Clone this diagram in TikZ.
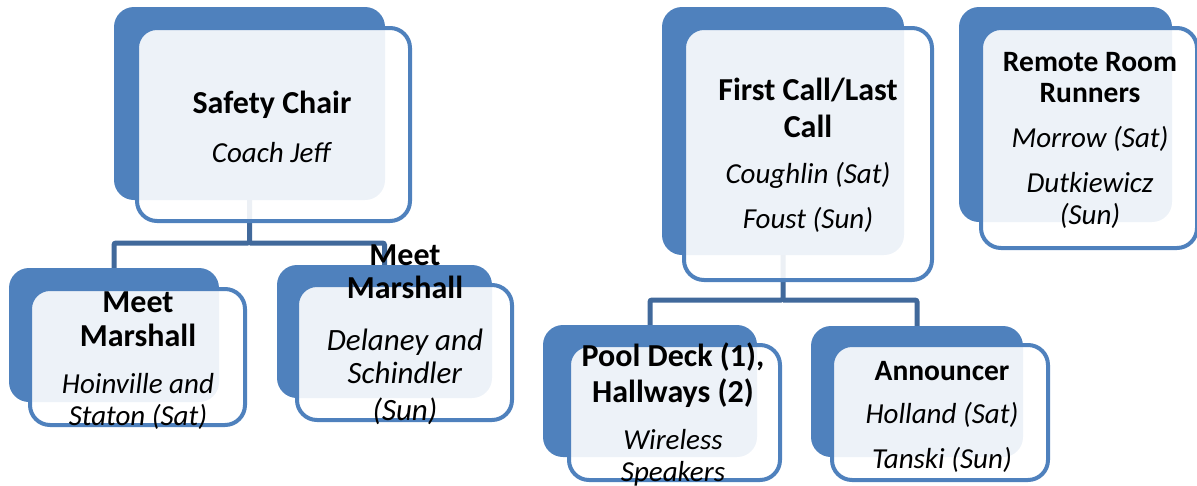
\documentclass[tikz,border=0pt]{standalone}
\usepackage{fontspec}
\setmainfont{Carlito}
\usetikzlibrary{backgrounds}

\definecolor{boxblue}{RGB}{79,129,189}
\definecolor{linkblue}{RGB}{65,105,155}

\newcommand{\rolehead}[2][32]{{\fontsize{#1}{33}\selectfont\upshape\bfseries #2}}
\newcommand{\rolename}[1]{\textit{#1}}

\tikzset{
	backbox/.style={rectangle,fill=boxblue,rounded corners=20pt,inner sep=0pt},
	frontbox/.style={rectangle,draw=boxblue,line width=4pt,fill=white,fill opacity=0.9,rounded corners=20pt,inner sep=0pt},
	roletext/.style={align=center,inner sep=0pt,font=\fontsize{29}{33}\selectfont},
	link/.style={draw=linkblue,line width=5pt,rounded corners=2pt}
}

\begin{document}
\begin{tikzpicture}[x=1pt,y=-1pt]
	\useasboundingbox (0,0) rectangle (1197,485);

	% back boxes
	\begin{scope}[every node/.style={backbox}]
		\node[minimum width=271pt,minimum height=193pt] (safetyB) at (249.5,103.5) {};
		\node[minimum width=210pt,minimum height=134pt] (meetLB) at (114,335) {};
		\node[minimum width=215pt,minimum height=133pt] (meetRB) at (384.5,331.5) {};
		\node[minimum width=242pt,minimum height=248pt] (firstB) at (783,131) {};
		\node[minimum width=213pt,minimum height=215pt] (remoteB) at (1065.5,114.5) {};
		\node[minimum width=214pt,minimum height=132pt] (poolB) at (650,391) {};
		\node[minimum width=212pt,minimum height=131pt] (annB) at (917,391.5) {};
	\end{scope}

	% front boxes
	\begin{scope}[every node/.style={frontbox}]
		\node[minimum width=273pt,minimum height=193pt] (safetyF) at (273.5,124.5) {};
		\node[minimum width=215pt,minimum height=136pt] (meetLF) at (137.5,357) {};
		\node[minimum width=215pt,minimum height=135pt] (meetRF) at (404.5,352.5) {};
		\node[minimum width=248pt,minimum height=252pt] (firstF) at (808,154) {};
		\node[minimum width=216pt,minimum height=220pt] (remoteF) at (1089,138) {};
		\node[minimum width=211pt,minimum height=135pt] (poolF) at (674.5,412.5) {};
		\node[minimum width=216pt,minimum height=135pt] (annF) at (940,412.5) {};
	\end{scope}

	% texts
	\begin{scope}[every node/.style={roletext}]
		\node (safety) at (272,127) {\rolehead{Safety Chair}\\[16pt]\rolename{Coach Jeff}};
		\node (meetL) at (138,360.5) {\rolehead{Meet}\\[1pt]\rolehead{Marshall}\\[14pt]\rolename{Hoinville and}\\[-1pt]\rolename{Staton (Sat)}};
		\node[font=\fontsize{31}{33}\selectfont] (meetR) at (405,335) {\rolehead{Meet}\\\rolehead{Marshall}\\[19pt]\rolename{Delaney and}\\\rolename{Schindler}\\[4pt]\rolename{(Sun)}};
		\node (first) at (808,155) {\rolehead{First Call/Last}\\[4pt]\rolehead{Call}\\[13pt]\rolename{Coughlin (Sat)}\\[12pt]\rolename{Foust (Sun)}};
		\node (remote) at (1090,140) {\rolehead[29.5]{Remote Room}\\[-2pt]\rolehead[29.5]{Runners}\\[12pt]\rolename{Morrow (Sat)}\\[12pt]\rolename{Dutkiewicz}\\[-1pt]\rolename{(Sun)}};
		\node (pool) at (673,414.5) {\rolehead{Pool Deck (1),}\\[3pt]\rolehead{Hallways (2)}\\[14pt]\rolename{Wireless}\\[-1pt]\rolename{Speakers}};
		\node (announcer) at (942,416.5) {\rolehead[29.5]{Announcer}\\[10pt]\rolename{Holland (Sat)}\\[12pt]\rolename{Tanski (Sun)}};
	\end{scope}

	% connectors, behind the boxes
	\begin{scope}[on background layer]
		\coordinate (safetyBus) at (249.5,243);
		\coordinate (firstBus) at (783,300);
		\draw[link] (safetyB.south) -- (safetyBus) -| (meetLB.north);
		\draw[link] (safetyBus) -| (meetRB.north);
		\draw[link] (firstB.south) -- (firstBus) -| (poolB.north);
		\draw[link] (firstBus) -| (annB.north);
	\end{scope}
\end{tikzpicture}
\end{document}
